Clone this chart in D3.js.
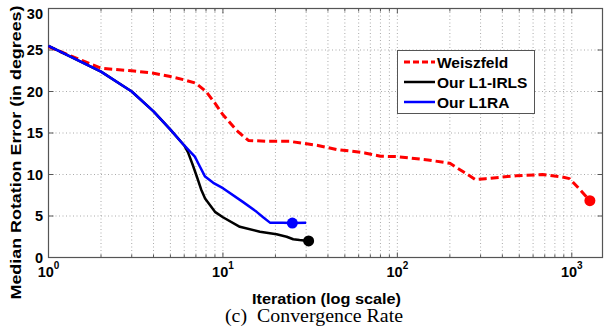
<!DOCTYPE html>
<html>
<head>
<meta charset="utf-8">
<script src="https://cdn.jsdelivr.net/npm/d3@7"></script>
<style>
body { margin: 0; background: #fff; }
svg { display: block; font-family: 'Liberation Sans', Arial, sans-serif; }
</style>
</head>
<body>
<svg></svg>
<script>
let width = 605
let height = 327

// series
let weiszfeldIter = [1, 2, 3, 4, 5, 6, 7, 8, 9, 10, 12, 14, 18, 24, 35, 45, 55, 65, 80, 100, 150, 200, 240, 280, 320, 480, 680, 880, 970, 1100, 1270]
let weiszfeldErr = [25.4, 22.8, 22.5, 22.2, 21.8, 21.4, 21.0, 20.0, 18.6, 17.2, 15.3, 14.1, 14.0, 14.0, 13.5, 13.0, 12.8, 12.6, 12.2, 12.15, 11.75, 11.35, 10.3, 9.4, 9.5, 9.85, 10.0, 9.7, 9.5, 8.3, 6.85]
let irlsIter = [1, 2, 3, 4, 5, 6, 6.3, 6.7, 7.1, 7.5, 7.9, 9, 10, 12.5, 16.3, 20.3, 23.2, 25.3, 27.5, 31]
let irlsErr = [25.5, 22.4, 20.0, 17.6, 15.4, 13.5, 12.7, 11.2, 9.7, 8.2, 7.1, 5.5, 4.85, 3.7, 3.1, 2.8, 2.5, 2.2, 2.1, 2.0]
let l1raIter = [1, 2, 3, 4, 5, 6, 6.9, 7.4, 7.9, 8.8, 10, 13, 15.6, 17, 18.6, 22, 25, 30]
let l1raErr = [25.5, 22.4, 20.0, 17.6, 15.4, 13.5, 12.15, 10.9, 9.75, 9.0, 8.35, 6.7, 5.5, 4.85, 4.2, 4.2, 4.15, 4.2]

let seriesNames = ['Weiszfeld', 'Our L1-IRLS', 'Our L1RA']
let endMarkers = [[1270, 6.85], [31, 2.0], [25, 4.15]]
let yTicks = [0, 5, 10, 15, 20, 25, 30]
let xMajor = [1, 10, 100, 1000]

let svg = d3.select('svg')
    .attr('width', width)
    .attr('height', height)

let x = d3.scaleLog().domain([1, 1500]).range([48.5, 602.5])
let y = d3.scaleLinear().domain([0, 30]).range([257.5, 8.5])

let xMinor = []
for (let d = 1; d <= 1000; d *= 10) {
    for (let k = 2; k <= 9; k++) {
        if (d * k <= 1500) xMinor.push(d * k)
    }
}

// grid
let grid = svg.append('g')
grid.selectAll('.gx')
    .data(xMajor.concat(xMinor).filter(v => v > 1)).enter()
    .append('line')
    .attr('x1', d => x(d)).attr('x2', d => x(d))
    .attr('y1', y(30)).attr('y2', y(0))
    .attr('stroke', '#aaa')
    .attr('stroke-width', 1)
    .attr('stroke-dasharray', '1,2.5')
grid.selectAll('.gy')
    .data(yTicks.filter(v => v > 0 && v < 30)).enter()
    .append('line')
    .attr('x1', x(1)).attr('x2', x(1500))
    .attr('y1', d => y(d)).attr('y2', d => y(d))
    .attr('stroke', '#aaa')
    .attr('stroke-width', 1)
    .attr('stroke-dasharray', '1,2.5')

// ticks on all four sides, pointing in
let ticks = svg.append('g').attr('stroke', '#555').attr('stroke-width', 1)
xMajor.concat(xMinor).forEach(v => {
    let len = xMajor.includes(v) ? 5 : 3
    ticks.append('line').attr('x1', x(v)).attr('x2', x(v)).attr('y1', y(0)).attr('y2', y(0) - len)
    ticks.append('line').attr('x1', x(v)).attr('x2', x(v)).attr('y1', y(30)).attr('y2', y(30) + len)
})
yTicks.forEach(v => {
    ticks.append('line').attr('x1', x(1)).attr('x2', x(1) + 5).attr('y1', y(v)).attr('y2', y(v))
    ticks.append('line').attr('x1', x(1500)).attr('x2', x(1500) - 5).attr('y1', y(v)).attr('y2', y(v))
})

svg.append('rect')
    .attr('x', x(1)).attr('y', y(30))
    .attr('width', x(1500) - x(1)).attr('height', y(0) - y(30))
    .attr('fill', 'none')
    .attr('stroke', '#555')
    .attr('stroke-width', 1.2)

// tick labels
svg.append('g').selectAll('text')
    .data(yTicks).enter()
    .append('text')
    .attr('x', 43)
    .attr('y', d => Math.max(y(d) + 5, 19))
    .attr('text-anchor', 'end')
    .style('font-weight', 'bold')
    .style('font-size', '14.5px')
    .text(d => d)

let xl = svg.append('g').selectAll('text')
    .data(xMajor).enter()
    .append('text')
    .attr('x', d => x(d))
    .attr('y', 277)
    .attr('text-anchor', 'middle')
    .style('font-weight', 'bold')
    .style('font-size', '14.5px')
xl.append('tspan').text('10')
xl.append('tspan')
    .attr('dy', -8)
    .style('font-size', '10px')
    .text(d => Math.round(Math.log10(d)))

// axis titles
svg.append('text')
    .attr('x', 326.5)
    .attr('y', 304)
    .attr('text-anchor', 'middle')
    .attr('textLength', 149)
    .attr('lengthAdjust', 'spacingAndGlyphs')
    .style('font-weight', 'bold')
    .style('font-size', '14.5px')
    .text('Iteration (log scale)')

svg.append('text')
    .attr('transform', 'translate(21,152.5) rotate(-90)')
    .attr('text-anchor', 'middle')
    .attr('textLength', 294)
    .attr('lengthAdjust', 'spacingAndGlyphs')
    .style('font-weight', 'bold')
    .style('font-size', '15.5px')
    .text('Median Rotation Error (in degrees)')

svg.append('text')
    .attr('x', 314)
    .attr('y', 322)
    .attr('text-anchor', 'middle')
    .attr('textLength', 178)
    .attr('lengthAdjust', 'spacingAndGlyphs')
    .style('font-family', "'Liberation Serif', 'Times New Roman', serif")
    .style('font-size', '18px')
    .attr('xml:space', 'preserve')
    .text('(c)  Convergence Rate')

// curves
let line = d3.line()
    .x(d => x(d[0]))
    .y(d => y(d[1]))

let series = [
    { pts: d3.zip(weiszfeldIter, weiszfeldErr), color: '#ff0000', dash: '8,4', w: 3 },
    { pts: d3.zip(irlsIter, irlsErr), color: '#000000', dash: null, w: 2.5 },
    { pts: d3.zip(l1raIter, l1raErr), color: '#0000ff', dash: null, w: 2.5 }
]

series.forEach((s, i) => {
    svg.append('path')
        .attr('d', line(s.pts))
        .attr('fill', 'none')
        .attr('stroke', s.color)
        .attr('stroke-width', s.w)
        .attr('stroke-dasharray', s.dash)
        .attr('stroke-linejoin', 'round')
    svg.append('circle')
        .attr('cx', x(endMarkers[i][0]))
        .attr('cy', y(endMarkers[i][1]))
        .attr('r', 5.5)
        .attr('fill', s.color)
})

// legend
let legend = svg.append('g')
legend.append('rect')
    .attr('x', 397.5).attr('y', 50.5)
    .attr('width', 137).attr('height', 63)
    .attr('fill', '#fff')
    .attr('stroke', '#555')
    .attr('stroke-width', 1)
series.forEach((s, i) => {
    let ly = 62 + i * 20
    legend.append('line')
        .attr('x1', 404).attr('x2', 435)
        .attr('y1', ly).attr('y2', ly)
        .attr('stroke', s.color)
        .attr('stroke-width', s.w)
        .attr('stroke-dasharray', s.dash ? '6,3' : null)
    legend.append('text')
        .attr('x', 437)
        .attr('y', ly + 5.5)
        .style('font-weight', 'bold')
        .style('font-size', '15.5px')
        .text(seriesNames[i])
})
</script>
</body>
</html>
